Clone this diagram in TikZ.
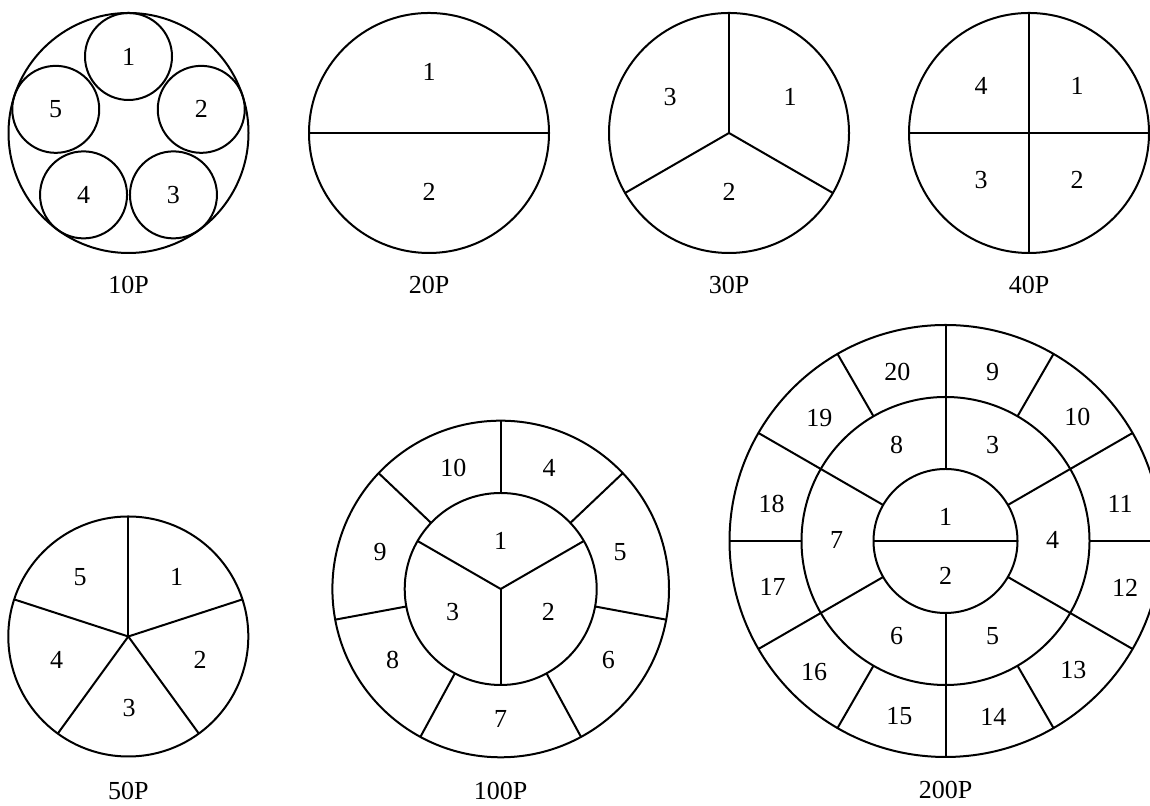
\documentclass[tikz,border=0pt]{standalone}
\usepackage{fontspec}
\setmainfont{Liberation Serif}
\usetikzlibrary{calc}

\begin{document}
\begin{tikzpicture}[
  x=0.5pt, y=0.5pt,
  line width=1pt,
  num/.style={font=\fontsize{13}{15}\selectfont, inner sep=0pt},
  tag/.style={font=\fontsize{13}{15}\selectfont, inner sep=0pt}
]
  \useasboundingbox (0,0) rectangle (1150,806);
  \clip (0,0) rectangle (1150,806);

  % 10P
  \coordinate (c10) at (128.5,673);
  \draw (c10) circle (120);
  \foreach \a/\n in {90/1,18/2,-54/3,-126/4,162/5} {
    \draw ($(c10)+(\a:76.5)$) circle (43.5);
    \node[num] (p10-\n) at ($(c10)+(\a:76.5)$) {\n};
  }
  \node[tag] (l10) at (128.5,521) {10P};

  % 20P
  \coordinate (c20) at (429,673);
  \draw (c20) circle (120);
  \draw ($(c20)+(180:120)$) -- ($(c20)+(0:120)$);
  \node[num] (p20-1) at (429,734) {1};
  \node[num] (p20-2) at (429,614) {2};
  \node[tag] (l20) at (429,521) {20P};

  % 30P
  \coordinate (c30) at (729,673);
  \draw (c30) circle (120);
  \foreach \a in {90,210,330} \draw (c30) -- +(\a:120);
  \foreach \x/\y/\n in {790/709/1, 729/614/2, 670/709/3}
    \node[num] (p30-\n) at (\x,\y) {\n};
  \node[tag] (l30) at (729,521) {30P};

  % 40P
  \coordinate (c40) at (1029,673);
  \draw (c40) circle (120);
  \foreach \a in {0,90,180,270} \draw (c40) -- +(\a:120);
  \foreach \x/\y/\n in {1077/720/1, 1077/626/2, 981/626/3, 981/720/4}
    \node[num] (p40-\n) at (\x,\y) {\n};
  \node[tag] (l40) at (1029,521) {40P};

  % 50P
  \coordinate (c50) at (128.3,169.5);
  \draw (c50) circle (120);
  \foreach \a in {90,18,-54,-126,162} \draw (c50) -- +(\a:120);
  \foreach \x/\y/\n in {176.7/229.3/1, 200/146/2, 129/97.7/3, 56.7/146/4, 80/229.3/5}
    \node[num] (p50-\n) at (\x,\y) {\n};
  \node[tag] (l50) at (128.3,15) {50P};

  % 100P
  \coordinate (c100) at (500.7,217);
  \draw (c100) circle (168.3);
  \draw (c100) circle (96);
  \foreach \a in {30,150,270} \draw (c100) -- +(\a:96);
  \foreach \a in {90,43.5,-10.5,-61.5,-118.5,-169.5,136.5}
    \draw ($(c100)+(\a:96)$) -- ($(c100)+(\a:168.3)$);
  \foreach \x/\y/\n in {500.7/265.3/1, 548.3/194.3/2, 452.7/194.3/3,
      549/337.7/4, 620/254.3/5, 608.3/146/6, 500.7/86.7/7,
      392.7/146/8, 380/254.3/9, 453.3/337.7/10}
    \node[num] (p100-\n) at (\x,\y) {\n};
  \node[tag] (l100) at (500.7,15) {100P};

  % 200P
  \coordinate (c200) at (945.5,265);
  \draw (c200) circle (216);
  \draw (c200) circle (144);
  \draw (c200) circle (72);
  \draw ($(c200)+(180:72)$) -- ($(c200)+(0:72)$);
  \foreach \a in {30,90,...,330}
    \draw ($(c200)+(\a:72)$) -- ($(c200)+(\a:144)$);
  \foreach \a in {0,30,...,330}
    \draw ($(c200)+(\a:144)$) -- ($(c200)+(\a:216)$);
  \foreach \x/\y/\n in {945.7/289.3/1, 945.7/230/2, 992.7/361/3, 1052.7/266/4,
      992.7/170/5, 896.7/170/6, 836.7/266/7, 896.7/361/8,
      992.7/434.3/9, 1077.3/389.3/10, 1120/302/11, 1125/217.7/12,
      1073.3/136/13, 993.3/88.7/14, 899.3/90/15, 814/134.3/16,
      772.7/218.7/17, 771.7/302/18, 819.3/387.7/19, 897.3/434.3/20}
    \node[num] (p200-\n) at (\x,\y) {\n};
  \node[tag] (l200) at (945.5,16) {200P};
\end{tikzpicture}
\end{document}
